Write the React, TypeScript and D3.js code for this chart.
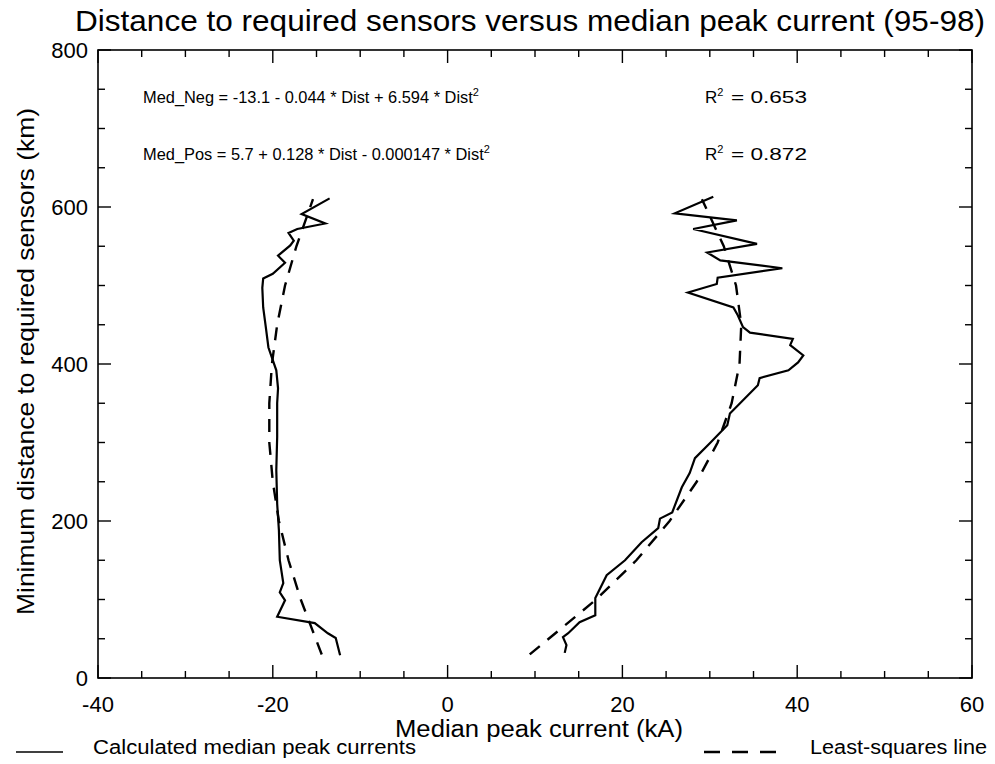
import React from "react";
import * as d3 from "d3";

// Negative median peak current (solid), bottom to top
const negDist = [29, 51, 57, 70, 78, 99, 109, 121, 150, 188, 222, 265, 307, 350, 369, 392, 408, 421, 447, 472, 497, 509, 515, 529, 538, 551, 557, 567, 572, 579, 591, 611];
const negCurrent = [-12.3, -12.8, -13.7, -15.2, -19.5, -18.6, -19.2, -18.8, -19.2, -19.3, -19.5, -19.6, -19.5, -19.5, -19.4, -19.6, -20.1, -20.5, -20.8, -21.1, -21.2, -21.1, -20.0, -18.6, -19.4, -18.0, -17.6, -18.2, -17.2, -14.0, -16.7, -13.5];

// Positive median peak current (solid), bottom to top
const posDist = [32, 42, 52, 57, 71, 80, 102, 131, 150, 173, 191, 203, 211, 243, 261, 280, 299, 322, 337, 373, 382, 392, 402, 411, 424, 432, 440, 447, 462, 472, 491, 502, 510, 522, 532, 542, 553, 572, 583, 592, 613];
const posCurrent = [13.4, 13.6, 13.2, 13.8, 15.1, 16.9, 16.9, 18.2, 20.3, 22.2, 24.1, 24.3, 25.7, 26.8, 27.7, 28.3, 30.0, 32.0, 32.3, 35.5, 35.7, 39.0, 40.1, 40.7, 39.2, 39.5, 34.6, 33.8, 33.2, 32.7, 27.5, 30.8, 30.9, 38.3, 31.2, 29.7, 35.4, 28.1, 33.1, 26.0, 30.4];

// Least-squares lines (dashed)
const fitDist = [30, 100, 150, 200, 250, 300, 350, 400, 450, 500, 550, 610];
const negFit = [-14.4, -16.8, -18.2, -19.3, -20.0, -20.4, -20.4, -20.1, -19.5, -18.6, -17.3, -15.4];
const posFit = [9.4, 17.0, 21.6, 25.4, 28.5, 30.9, 32.5, 33.4, 33.6, 33.0, 31.6, 29.1];

const xTickLabels = ["-40", "-20", "0", "20", "40", "60"];
const yTickLabels = ["0", "200", "400", "600", "800"];

const W = 995, H = 764;
const L = 98, R = 972, T = 50, B = 678;
const FONT = "'Liberation Sans', Arial, Helvetica, sans-serif";

export default function App() {
  const x = d3.scaleLinear().domain([-40, 60]).range([L, R]);
  const y = d3.scaleLinear().domain([0, 800]).range([B, T]);
  const line = d3.line<[number, number]>().x(d => x(d[0])).y(d => y(d[1]));

  const negPts = negDist.map((d, i) => [negCurrent[i], d] as [number, number]);
  const posPts = posDist.map((d, i) => [posCurrent[i], d] as [number, number]);
  const negFitPts = fitDist.map((d, i) => [negFit[i], d] as [number, number]);
  const posFitPts = fitDist.map((d, i) => [posFit[i], d] as [number, number]);

  const xMinor = x.ticks(20);
  const yMinor = y.ticks(16);
  const isXMajor = (v: number) => Math.abs(v % 20) < 1e-9;
  const isYMajor = (v: number) => Math.abs(v % 200) < 1e-9;
  const majLen = 13, minLen = 7;

  return (
    <svg width={W} height={H} style={{ position: "absolute", left: 0, top: 0, background: "#fff" }} fontFamily={FONT}>
      <rect x={0} y={0} width={W} height={H} fill="#fff" />
      <text x={75} y={31} fontSize={29} textLength={910} lengthAdjust="spacingAndGlyphs" fill="#000">
        Distance to required sensors versus median peak current (95-98)
      </text>

      <rect x={L} y={T} width={R - L} height={B - T} fill="none" stroke="#000" strokeWidth={1.6} />

      {xMinor.map(v => {
        const len = isXMajor(v) ? majLen : minLen;
        return (
          <g key={"xt" + v}>
            <line x1={x(v)} x2={x(v)} y1={B} y2={B - len} stroke="#000" strokeWidth={1.4} />
            <line x1={x(v)} x2={x(v)} y1={T} y2={T + len} stroke="#000" strokeWidth={1.4} />
          </g>
        );
      })}
      {yMinor.map(v => {
        const len = isYMajor(v) ? majLen : minLen;
        return (
          <g key={"yt" + v}>
            <line x1={L} x2={L + len} y1={y(v)} y2={y(v)} stroke="#000" strokeWidth={1.4} />
            <line x1={R} x2={R - len} y1={y(v)} y2={y(v)} stroke="#000" strokeWidth={1.4} />
          </g>
        );
      })}

      {xTickLabels.map(t => (
        <text key={"xl" + t} x={x(+t)} y={712} fontSize={22} textAnchor="middle" fill="#000">{t}</text>
      ))}
      {yTickLabels.map(t => (
        <text key={"yl" + t} x={88} y={y(+t) + 8} fontSize={22} textAnchor="end" fill="#000">{t}</text>
      ))}

      <text x={395} y={737} fontSize={23} textLength={288} lengthAdjust="spacingAndGlyphs" fill="#000">Median peak current (kA)</text>
      <text transform={`translate(34,615) rotate(-90)`} fontSize={24} textLength={507} lengthAdjust="spacingAndGlyphs" fill="#000">
        Minimum distance to required sensors (km)
      </text>

      <text x={143} y={103} fontSize={16.4} fill="#000">
        Med_Neg = -13.1 - 0.044 * Dist + 6.594 * Dist<tspan dy={-7} fontSize={11}>2</tspan>
      </text>
      <text x={705} y={103} fontSize={17} fill="#000">
        R<tspan dy={-7} fontSize={11}>2</tspan>
      </text>
      <text x={731} y={103} fontSize={17} textLength={76} lengthAdjust="spacingAndGlyphs" fill="#000">= 0.653</text>
      <text x={143} y={160} fontSize={16.4} fill="#000">
        Med_Pos = 5.7 + 0.128 * Dist - 0.000147 * Dist<tspan dy={-7} fontSize={11}>2</tspan>
      </text>
      <text x={705} y={160} fontSize={17} fill="#000">
        R<tspan dy={-7} fontSize={11}>2</tspan>
      </text>
      <text x={731} y={160} fontSize={17} textLength={76} lengthAdjust="spacingAndGlyphs" fill="#000">= 0.872</text>

      <path d={line(negPts) || ""} fill="none" stroke="#000" strokeWidth={2.2} strokeLinejoin="miter" />
      <path d={line(posPts) || ""} fill="none" stroke="#000" strokeWidth={2.2} strokeLinejoin="miter" />
      <path d={line(negFitPts) || ""} fill="none" stroke="#000" strokeWidth={2.4} strokeDasharray="13,10" />
      <path d={line(posFitPts) || ""} fill="none" stroke="#000" strokeWidth={2.4} strokeDasharray="13,10" />

      <line x1={16} x2={63} y1={752} y2={752} stroke="#000" strokeWidth={1.6} />
      <text x={93} y={754} fontSize={20} textLength={323} lengthAdjust="spacingAndGlyphs" fill="#000">Calculated median peak currents</text>
      <line x1={704} x2={776} y1={752} y2={752} stroke="#000" strokeWidth={2.6} strokeDasharray="16,12" />
      <text x={810} y={754} fontSize={20} textLength={177} lengthAdjust="spacingAndGlyphs" fill="#000">Least-squares line</text>
    </svg>
  );
}
